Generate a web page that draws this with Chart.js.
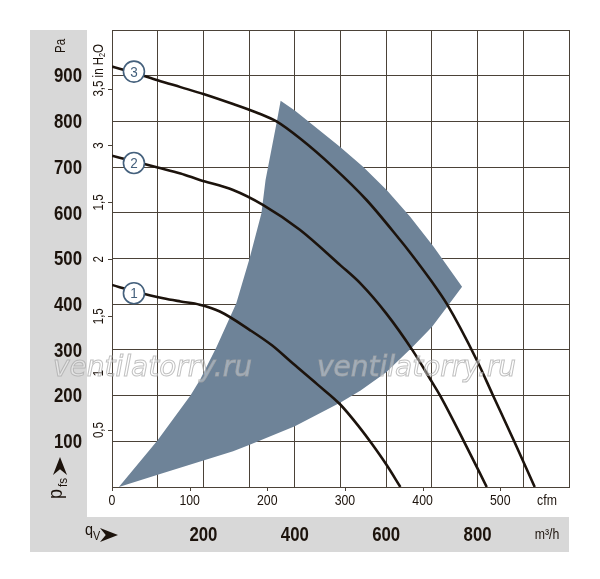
<!DOCTYPE html>
<html>
<head>
<meta charset="utf-8">
<script src="https://cdn.jsdelivr.net/npm/chart.js@4.4.0/dist/chart.umd.min.js"></script>
<style>
html, body { margin: 0; padding: 0; background: #fff; }
canvas { display: block; }
</style>
</head>
<body>
<canvas id="myChart" width="600" height="579"></canvas>
<script>
// fan curves: air flow (m3/h) vs static pressure (Pa)
const curve1X = [0, 50, 112, 150, 192, 236, 301, 350, 396, 450, 500, 542, 569, 601, 631];
const curve1Y = [442, 428, 413, 406, 399, 384, 344, 310, 270, 224, 180, 130, 94, 48, 0];

const curve2X = [0, 50, 100, 150, 192, 265, 331, 411, 500, 544, 600, 657, 700, 718, 770, 820];
const curve2Y = [725, 712, 699, 686, 672, 650, 617, 563, 485, 445, 380, 300, 230, 200, 100, 0];

const curve3X = [0, 50, 100, 150, 200, 265, 320, 360, 411, 484, 557, 630, 650, 700, 733, 798, 833, 880, 925];
const curve3Y = [920, 906, 890, 875, 860, 838, 818, 800, 763, 700, 628, 541, 516, 449, 400, 278, 202, 100, 0];

// operating range outline (closed: lower edge, top edge, left edge)
const regionX = [15, 100, 200, 265, 300, 400, 500, 544, 600, 657, 700, 733, 766,
                 703, 652, 601, 550, 498, 400, 369,
                 360, 336, 327, 301, 272, 229, 193, 172, 99, 15];
const regionY = [0, 27, 58, 78, 92, 133, 185, 211, 251, 306, 350, 394, 438,
                 527, 592, 650, 700, 745, 824, 845,
                 796, 672, 599, 500, 402, 307, 235, 201, 101, 0];

// numbered circles on the curves
const markerX = [48, 48, 48];
const markerY = [424, 709, 909];
const markerText = ['1', '2', '3'];

// axis labels
const paTicks = [100, 200, 300, 400, 500, 600, 700, 800, 900];
const flowTicks = [200, 400, 600, 800];
const cfmTicks = [0, 100, 200, 300, 400, 500];
const inH2OTicks = [0.5, 1, 1.5, 2, 2.5, 3, 3.5];
const inH2OLabels = ['0,5', '1', '1,5', '2', '1,5', '3', '3,5'];

const CFM_TO_M3H = 1.699;
const INH2O_TO_PA = 249.09;

const INK = '#1c130c';
const GRID = '#4b4238';
const PANEL = '#d8d8d8';
const MARK = '#44607c';

function pts(xs, ys) {
    return xs.map((x, i) => ({ x: x, y: ys[i] }));
}

function txt(ctx, s, x, y, o) {
    ctx.save();
    ctx.translate(x, y);
    if (o.rot) ctx.rotate(o.rot);
    ctx.scale(o.sx || 0.82, 1);
    ctx.font = (o.style || '') + ' ' + (o.weight || 'normal') + ' ' + o.size + 'px ' + (o.family || '"Liberation Sans", Arial, sans-serif');
    ctx.textAlign = o.align || 'center';
    ctx.textBaseline = o.base || 'middle';
    ctx.fillStyle = o.color || INK;
    ctx.fillText(s, 0, 0);
    ctx.restore();
}

function arrowHead(ctx, tipX, tipY, len, wid, dir) {
    // dir: 'right' or 'up'
    ctx.save();
    ctx.translate(tipX, tipY);
    if (dir === 'up') ctx.rotate(-Math.PI / 2);
    ctx.beginPath();
    ctx.moveTo(0, 0);
    ctx.lineTo(-len, -wid / 2);
    ctx.lineTo(-len * 0.68, 0);
    ctx.lineTo(-len, wid / 2);
    ctx.closePath();
    ctx.fillStyle = INK;
    ctx.fill();
    ctx.restore();
}

const decor = {
    id: 'decor',
    beforeDraw(chart) {
        const ctx = chart.ctx;
        const a = chart.chartArea;
        ctx.save();
        ctx.fillStyle = PANEL;
        ctx.fillRect(30, 30, 57, 522);
        ctx.fillRect(30, 517, a.right - 30, 35);
        ctx.restore();
    },
    afterDraw(chart) {
        const ctx = chart.ctx;
        const xs = chart.scales.x, ys = chart.scales.y;
        const a = chart.chartArea;

        // Pa labels in left panel
        paTicks.forEach(v => {
            txt(ctx, String(v), 82, ys.getPixelForValue(v) + 1, { size: 21, weight: 'bold', align: 'right', sx: 0.8 });
        });
        txt(ctx, 'Pa', 61, 46, { size: 14, rot: -Math.PI / 2 });

        // p_fs with arrow
        arrowHead(ctx, 60, 457, 18, 14, 'up');
        txt(ctx, 'p', 62, 499, { size: 20, rot: -Math.PI / 2, align: 'left', base: 'alphabetic', sx: 0.9 });
        txt(ctx, 'fs', 67, 487, { size: 13, rot: -Math.PI / 2, align: 'left', base: 'alphabetic', sx: 0.9 });

        // small ticks for in H2O and cfm scales
        ctx.save();
        ctx.strokeStyle = GRID;
        ctx.lineWidth = 1;
        inH2OTicks.forEach(v => {
            const y = Math.round(ys.getPixelForValue(v * INH2O_TO_PA)) + 0.5;
            ctx.beginPath();
            ctx.moveTo(a.left - 4, y);
            ctx.lineTo(a.left, y);
            ctx.stroke();
        });
        cfmTicks.forEach(v => {
            const x = Math.round(xs.getPixelForValue(v * CFM_TO_M3H)) + 0.5;
            ctx.beginPath();
            ctx.moveTo(x, a.bottom);
            ctx.lineTo(x, a.bottom + 4);
            ctx.stroke();
        });
        ctx.restore();

        inH2OTicks.forEach((v, i) => {
            const y = ys.getPixelForValue(v * INH2O_TO_PA);
            const lab = inH2OLabels[i];
            if (i < inH2OTicks.length - 1) {
                txt(ctx, lab, 99, y, { size: 14, rot: -Math.PI / 2 });
            } else {
                // "3,5 in H2O" centred on the number
                ctx.save();
                ctx.translate(99, y);
                ctx.rotate(-Math.PI / 2);
                ctx.scale(0.82, 1);
                ctx.fillStyle = INK;
                ctx.textBaseline = 'middle';
                ctx.textAlign = 'left';
                ctx.font = '14px "Liberation Sans", Arial, sans-serif';
                let x = -ctx.measureText(lab).width / 2;
                ctx.fillText(lab + ' in H', x, 0);
                x += ctx.measureText(lab + ' in H').width;
                ctx.font = '9px "Liberation Sans", Arial, sans-serif';
                ctx.fillText('2', x, 4);
                x += ctx.measureText('2').width;
                ctx.font = '14px "Liberation Sans", Arial, sans-serif';
                ctx.fillText('O', x, 0);
                ctx.restore();
            }
        });

        // cfm labels
        cfmTicks.forEach(v => {
            txt(ctx, String(v), xs.getPixelForValue(v * CFM_TO_M3H), 501, { size: 15 });
        });
        txt(ctx, 'cfm', 547, 501, { size: 15 });

        // m3/h labels in bottom panel
        flowTicks.forEach(v => {
            txt(ctx, String(v), xs.getPixelForValue(v), 535, { size: 21, weight: 'bold', sx: 0.8 });
        });
        txt(ctx, 'm³/h', 547, 535, { size: 15 });
        txt(ctx, 'q', 85, 535, { size: 16, align: 'left', base: 'alphabetic', sx: 0.9 });
        txt(ctx, 'V', 93, 540, { size: 12, align: 'left', base: 'alphabetic', sx: 0.9 });
        arrowHead(ctx, 118, 535, 18, 14, 'right');

        // numbered circles
        markerX.forEach((mx, i) => {
            const px = xs.getPixelForValue(mx), py = ys.getPixelForValue(markerY[i]);
            ctx.save();
            ctx.beginPath();
            ctx.arc(px, py, 10.5, 0, Math.PI * 2);
            ctx.fillStyle = '#fff';
            ctx.fill();
            ctx.lineWidth = 1.6;
            ctx.strokeStyle = MARK;
            ctx.stroke();
            ctx.restore();
            txt(ctx, markerText[i], px, py + 1, { size: 15, color: MARK, sx: 0.9 });
        });

        // watermark
        ctx.save();
        ctx.font = 'italic 28px "DejaVu Sans", sans-serif';
        ctx.textAlign = 'left';
        ctx.textBaseline = 'alphabetic';
        ctx.lineWidth = 1;
        ctx.fillStyle = 'rgba(255,255,255,0.35)';
        ctx.strokeStyle = 'rgba(165,165,165,0.7)';
        [53, 317].forEach(x => {
            ctx.fillText('ventilatorry.ru', x, 376);
            ctx.strokeText('ventilatorry.ru', x, 376);
        });
        ctx.restore();
    }
};

const lineStyle = {
    borderColor: INK,
    borderWidth: 2.6,
    pointRadius: 0,
    cubicInterpolationMode: 'monotone',
    fill: false
};

const config = {
    type: 'line',
    data: {
        datasets: [
            Object.assign({ label: '3', data: pts(curve3X, curve3Y) }, lineStyle),
            Object.assign({ label: '2', data: pts(curve2X, curve2Y) }, lineStyle),
            Object.assign({ label: '1', data: pts(curve1X, curve1Y) }, lineStyle),
            {
                label: 'range',
                data: pts(regionX, regionY),
                borderWidth: 0,
                borderColor: 'rgba(0,0,0,0)',
                backgroundColor: '#6e8398',
                pointRadius: 0,
                tension: 0,
                fill: 'shape'
            }
        ]
    },
    options: {
        responsive: false,
        animation: false,
        devicePixelRatio: 1,
        layout: { padding: { left: 112, top: 30, right: 31, bottom: 92 } },
        plugins: {
            legend: { display: false },
            tooltip: { enabled: false }
        },
        scales: {
            x: {
                type: 'linear',
                min: 0,
                max: 1000,
                z: 1,
                ticks: { display: false, stepSize: 100 },
                grid: { color: GRID, lineWidth: 1, drawTicks: false },
                border: { color: GRID, width: 1 }
            },
            y: {
                type: 'linear',
                min: 0,
                max: 1000,
                z: 1,
                ticks: { display: false, stepSize: 100 },
                grid: { color: GRID, lineWidth: 1, drawTicks: false },
                border: { color: GRID, width: 1 }
            }
        }
    },
    plugins: [decor]
};

const ctx = document.getElementById('myChart');
const myChart = new Chart(ctx, config);
</script>
</body>
</html>
